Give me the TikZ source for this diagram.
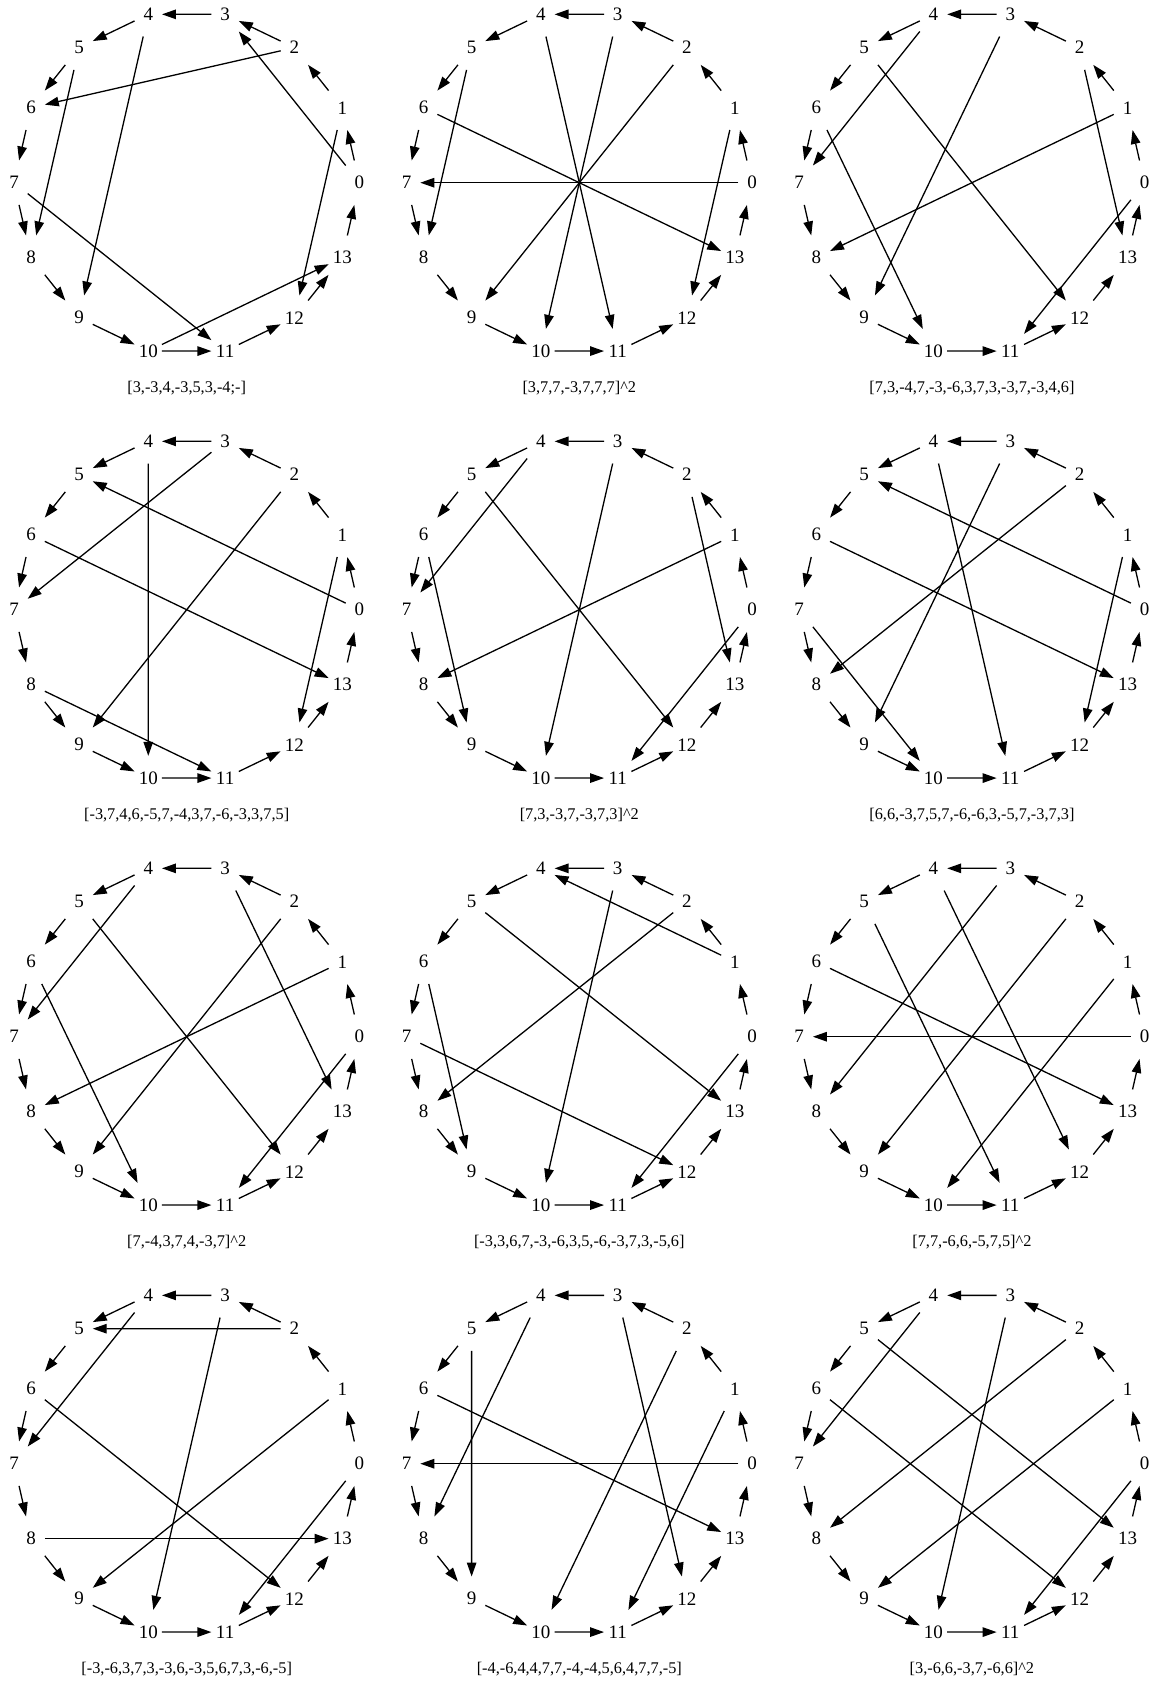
\documentclass[tikz,border=0pt]{standalone}
\usepackage{fontspec}
\setmainfont{Liberation Serif}
\usetikzlibrary{arrows.meta}
\begin{document}
\begin{tikzpicture}[x=1pt,y=-1pt,
  vtx/.style={rectangle, inner sep=0pt, minimum width=27pt, minimum height=44pt, font=\fontsize{19}{19}\selectfont},
  lcfedge/.style={line width=1.3pt, -{Triangle[length=14pt,width=9.5pt]}},
  captxt/.style={font=\fontsize{16.3}{16.3}\selectfont, inner sep=0pt}]
\useasboundingbox (0,0) rectangle (1152,1687);
\newcommand\lcfgraph[5]{%
  \foreach \k in {0,...,13} {
    \node[vtx] (#1-\k) at ({#2+172.7*cos(\k*360/14)},{#3-172.7*sin(\k*360/14)}) {\k};
  }
  \foreach \k in {0,...,13} {
    \pgfmathtruncatemacro\nxt{mod(\k+1,14)}
    \draw[lcfedge] (#1-\k) -- (#1-\nxt);
  }
  \foreach \s/\t in {#5} { \draw[lcfedge] (#1-\s) -- (#1-\t); }
  \node[captxt] (#1-cap) at (#2,#3+205) {#4};
}
% row 1
\lcfgraph{a}{186.7}{182.7}{[3,-3,4,-3,5,3,-4;-]}{0/3,1/12,2/6,4/9,5/8,7/11,10/13}
\lcfgraph{b}{579.3}{182.7}{[3,7,7,-3,7,7,7]\textasciicircum2}{0/7,1/12,2/9,3/10,4/11,5/8,6/13}
\lcfgraph{c}{971.9}{182.7}{[7,3,-4,7,-3,-6,3,7,3,-3,7,-3,4,6]}{0/11,1/8,2/13,3/9,4/7,5/12,6/10}
% row 2
\lcfgraph{d}{186.7}{609.7}{[-3,7,4,6,-5,7,-4,3,7,-6,-3,3,7,5]}{0/5,1/12,2/9,3/7,4/10,6/13,8/11}
\lcfgraph{e}{579.3}{609.7}{[7,3,-3,7,-3,7,3]\textasciicircum2}{0/11,1/8,2/13,3/10,4/7,5/12,6/9}
\lcfgraph{f}{971.9}{609.7}{[6,6,-3,7,5,7,-6,-6,3,-5,7,-3,7,3]}{0/5,1/12,2/8,3/9,4/11,6/13,7/10}
% row 3
\lcfgraph{g}{186.7}{1036.7}{[7,-4,3,7,4,-3,7]\textasciicircum2}{0/11,1/8,2/9,3/13,4/7,5/12,6/10}
\lcfgraph{h}{579.3}{1036.7}{[-3,3,6,7,-3,-6,3,5,-6,-3,7,3,-5,6]}{0/11,1/4,2/8,3/10,5/13,6/9,7/12}
\lcfgraph{i}{971.9}{1036.7}{[7,7,-6,6,-5,7,5]\textasciicircum2}{0/7,1/10,2/9,3/8,4/12,5/11,6/13}
% row 4
\lcfgraph{j}{186.7}{1463.7}{[-3,-6,3,7,3,-3,6,-3,5,6,7,3,-6,-5]}{0/11,1/9,2/5,3/10,4/7,6/12,8/13}
\lcfgraph{k}{579.3}{1463.7}{[-4,-6,4,4,7,7,-4,-4,5,6,4,7,7,-5]}{0/7,1/11,2/10,3/12,4/8,5/9,6/13}
\lcfgraph{l}{971.9}{1463.7}{[3,-6,6,-3,7,-6,6]\textasciicircum2}{0/11,1/9,2/8,3/10,4/7,5/13,6/12}
\end{tikzpicture}
\end{document}
